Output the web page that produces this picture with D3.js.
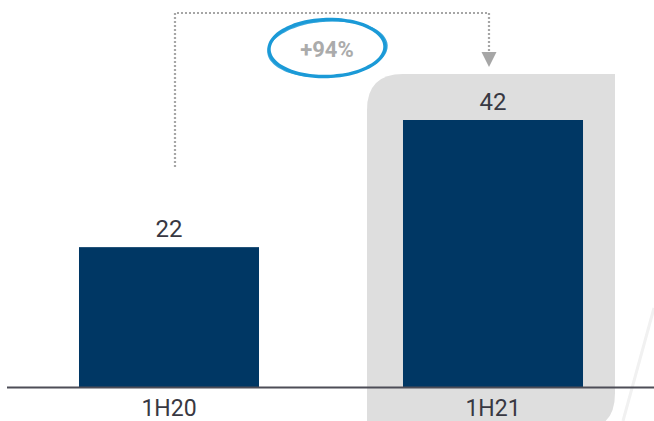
<!DOCTYPE html>
<html><head><meta charset="utf-8">
<script src="https://cdn.jsdelivr.net/npm/d3@7"></script>
<style>body{margin:0;background:#fff}svg{display:block}</style>
</head><body>
<svg id="c" width="654" height="421"></svg>
<script>
const categories = ["1H20", "1H21"];
const values = [22, 42];
const changeLabel = "+94%";
const highlighted = "1H21";

const W = 654, H = 421, baseY = 387;
const svg = d3.select("#c");
const font = "Roboto, 'Open Sans', sans-serif";

const x = d3.scaleBand().domain(categories).range([7, 655]).paddingInner(0.4444).paddingOuter(0.2222);
const y = d3.scaleLinear().domain([0, 42]).range([baseY, 120]);

// faint diagonal decoration
svg.append("line").attr("x1", 654).attr("y1", 308).attr("x2", 623).attr("y2", 421)
  .attr("stroke", "#f1f1f1").attr("stroke-width", 3);

// highlight box
const hx0 = x(highlighted) - 36, hx1 = x(highlighted) + x.bandwidth() + 32, hy0 = 74, hy1 = 421, r = 36;
svg.append("path")
  .attr("d", `M${hx0},${hy1} L${hx0},${hy0 + r} Q${hx0},${hy0} ${hx0 + r},${hy0} L${hx1},${hy0} L${hx1},${hy1 - 28} Q${hx1},${hy1} ${hx1 - 20},${hy1 + 6} Z`)
  .attr("fill", "#dedede");

// bars
svg.selectAll("rect.bar").data(categories).join("rect").attr("class", "bar")
  .attr("x", d => x(d)).attr("width", x.bandwidth())
  .attr("y", (d, i) => y(values[i])).attr("height", (d, i) => baseY - y(values[i]))
  .attr("fill", "#003764");

// axis line
svg.append("line").attr("x1", 7).attr("x2", W).attr("y1", baseY + 0.5).attr("y2", baseY + 0.5)
  .attr("stroke", "#4d4d57").attr("stroke-width", 2);

// value labels
svg.selectAll("text.val").data(categories).join("text").attr("class", "val")
  .attr("x", d => x(d) + x.bandwidth() / 2).attr("y", (d, i) => y(values[i]) - 10)
  .attr("text-anchor", "middle").attr("font-family", font).attr("font-size", 24)
  .attr("fill", "#383842").text((d, i) => values[i]);

// category labels
svg.selectAll("text.cat").data(categories).join("text").attr("class", "cat")
  .attr("x", d => x(d) + x.bandwidth() / 2).attr("y", 416)
  .attr("text-anchor", "middle").attr("font-family", font).attr("font-size", 23)
  .attr("fill", "#383842").text(d => d);

// dotted connector
const lx = x(categories[0]) + 96, rx = x(categories[1]) + 86, topY = 13;
svg.append("path").attr("d", `M${lx},167 L${lx},${topY} L${rx},${topY} L${rx},51`)
  .attr("fill", "none").attr("stroke", "#a6a6a6").attr("stroke-width", 2.2).attr("stroke-dasharray", "2,2");
svg.append("path").attr("d", `M${rx - 7.5},52 L${rx + 7.5},52 L${rx},67 Z`).attr("fill", "#a6a6a6");

// hand-drawn ellipse
const cx = 327, cy = 48;
const ell = (rxv, ryv, rot, dx, dy) => {
  const pts = d3.range(0, 361, 6).map(a => {
    const t = a * Math.PI / 180;
    const px = rxv * Math.cos(t), py = ryv * Math.sin(t);
    const c = Math.cos(rot), s = Math.sin(rot);
    return [cx + dx + px * c - py * s, cy + dy + px * s + py * c];
  });
  return d3.line().curve(d3.curveCardinalClosed)(pts);
};
svg.append("path").attr("d", ell(58, 28.5, -0.03, 0, 0)).attr("fill", "none").attr("stroke", "#1b9ad7").attr("stroke-width", 3.4);
svg.append("path").attr("d", ell(59.5, 28, -0.06, 0.5, 0.8)).attr("fill", "none").attr("stroke", "#1b9ad7").attr("stroke-width", 1.6).attr("opacity", 0.85);

svg.append("text").attr("x", cx).attr("y", 57).attr("text-anchor", "middle")
  .attr("font-family", font).attr("font-weight", "bold").attr("font-size", 22)
  .attr("fill", "#ababab").text(changeLabel);
</script>
</body></html>
